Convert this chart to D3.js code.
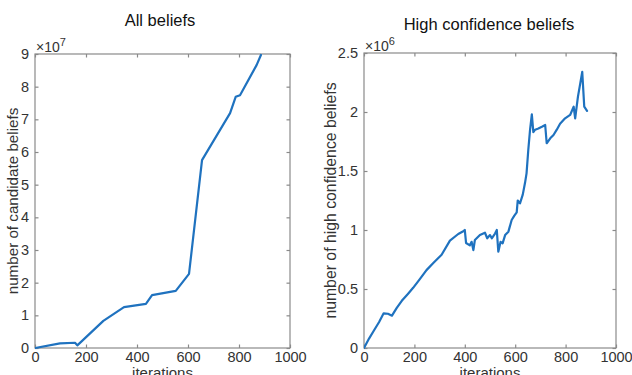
<!DOCTYPE html>
<html><head><meta charset="utf-8">
<script src="https://cdn.jsdelivr.net/npm/d3@7"></script>
<style>
html,body{margin:0;padding:0;background:#fff;}
svg{display:block;font-family:"Liberation Sans",Arial,Helvetica,sans-serif;}
</style></head>
<body>
<svg id="c" width="632" height="375"></svg>
<script>
// ---- data ----
const allIter = [0, 98, 157, 166, 268, 349, 435, 459, 552, 604, 655, 765, 787, 804, 869, 886];
const allValues = [0, 0.14e7, 0.16e7, 0.08e7, 0.83e7, 1.25e7, 1.35e7, 1.62e7, 1.75e7, 2.27e7, 5.75e7, 7.19e7, 7.69e7, 7.74e7, 8.66e7, 8.97e7];

const highIter = [0, 20, 40, 60, 78, 95, 111, 130, 150, 175, 195, 220, 248, 275, 308, 341, 374, 394, 400, 405, 420, 427, 434, 440, 460, 480, 489, 500, 507, 520, 527, 533, 542, 550, 560, 573, 586, 596, 606, 610, 619, 630, 639, 645, 652, 659, 666, 672, 679, 692, 706, 719, 725, 739, 752, 765, 778, 798, 818, 832, 838, 849, 858, 866, 874, 885];
const highValues = [0, 0.08e6, 0.15e6, 0.22e6, 0.294e6, 0.29e6, 0.274e6, 0.34e6, 0.40e6, 0.46e6, 0.51e6, 0.58e6, 0.66e6, 0.72e6, 0.79e6, 0.91e6, 0.966e6, 0.99e6, 1.0e6, 0.89e6, 0.87e6, 0.90e6, 0.83e6, 0.915e6, 0.957e6, 0.977e6, 0.93e6, 0.957e6, 0.93e6, 0.97e6, 1.0e6, 0.816e6, 0.90e6, 0.887e6, 0.957e6, 0.986e6, 1.085e6, 1.12e6, 1.15e6, 1.25e6, 1.226e6, 1.30e6, 1.40e6, 1.48e6, 1.68e6, 1.85e6, 1.98e6, 1.83e6, 1.85e6, 1.86e6, 1.875e6, 1.89e6, 1.735e6, 1.777e6, 1.805e6, 1.85e6, 1.90e6, 1.946e6, 1.975e6, 2.045e6, 1.946e6, 2.13e6, 2.24e6, 2.34e6, 2.045e6, 2.01e6];

const xTicks = [0, 200, 400, 600, 800, 1000];
const leftYTicks = [0, 1, 2, 3, 4, 5, 6, 7, 8, 9];
const rightYTicks = [0, 0.5, 1, 1.5, 2, 2.5];

const svg = d3.select("#c");
const lineColor = "#1f72bf";
const axisColor = "#8a8a8a";
const textColor = "#333";

function panel(opts) {
  const {x0, x1, y0, y1, xDomain, yDomain, yTicks, yScaleFactor, xs, ys, title, titleX, titleY, ylabel, ylabelX, ylabelSize, exp, fmt} = opts;
  const x = d3.scaleLinear().domain(xDomain).range([x0, x1]);
  const y = d3.scaleLinear().domain(yDomain).range([y1, y0]);
  const g = svg.append("g");
  const clipId = "clip" + Math.round(x0);
  svg.append("clipPath").attr("id", clipId).append("rect")
    .attr("x", x0).attr("y", y0 - 1).attr("width", x1 - x0).attr("height", y1 - y0 + 2);

  g.append("rect").attr("x", x0).attr("y", y0).attr("width", x1 - x0).attr("height", y1 - y0)
    .attr("fill", "none").attr("stroke", axisColor).attr("stroke-width", 1.2);

  const tl = 3.5;
  const bottom = g.append("g").attr("transform", `translate(0,${y1})`)
    .call(d3.axisBottom(x).tickValues(xTicks).tickSizeInner(-tl).tickSizeOuter(0).tickPadding(4).tickFormat(d3.format("d")));
  const top = g.append("g").attr("transform", `translate(0,${y0})`)
    .call(d3.axisTop(x).tickValues(xTicks).tickSizeInner(-tl).tickSizeOuter(0).tickFormat(""));
  const yv = yTicks.map(v => v * yScaleFactor);
  const left = g.append("g").attr("transform", `translate(${x0},0)`)
    .call(d3.axisLeft(y).tickValues(yv).tickSizeInner(-tl).tickSizeOuter(0).tickPadding(6).tickFormat(d => fmt(d / yScaleFactor)));
  const right = g.append("g").attr("transform", `translate(${x1},0)`)
    .call(d3.axisRight(y).tickValues(yv).tickSizeInner(-tl).tickSizeOuter(0).tickFormat(""));
  [bottom, top, left, right].forEach(a => {
    a.select(".domain").remove();
    a.selectAll(".tick line").attr("stroke", axisColor).attr("stroke-width", 1.2);
    a.selectAll(".tick text").attr("fill", textColor).attr("font-size", 14.5).attr("font-family", "Liberation Sans, Arial, sans-serif");
  });

  const data = xs.map((d, i) => [d, ys[i]]);
  g.append("path").datum(data)
    .attr("clip-path", `url(#${clipId})`)
    .attr("fill", "none").attr("stroke", lineColor).attr("stroke-width", 2.2)
    .attr("stroke-linejoin", "round").attr("stroke-linecap", "round")
    .attr("d", d3.line().x(d => x(d[0])).y(d => y(d[1])));

  svg.append("text").attr("x", titleX).attr("y", titleY).attr("text-anchor", "middle")
    .attr("font-size", 16.5).attr("fill", "#111").text(title);
  svg.append("text").attr("x", (x0 + x1) / 2).attr("y", 378).attr("text-anchor", "middle")
    .attr("font-size", 15).attr("fill", textColor).text("iterations");
  svg.append("text").attr("transform", `translate(${ylabelX},${(y0 + y1) / 2}) rotate(-90)`)
    .attr("text-anchor", "middle").attr("font-size", ylabelSize).attr("fill", textColor).text(ylabel);
  const e = svg.append("text").attr("x", x0 + 1).attr("y", y0 - 2).attr("font-size", 14).attr("fill", textColor);
  e.append("tspan").text("\u00d710");
  e.append("tspan").attr("dy", -6).attr("font-size", 11).text(exp);
}

panel({
  x0: 35, x1: 290, y0: 54, y1: 348,
  xDomain: [0, 1000], yDomain: [0, 9e7], yTicks: leftYTicks, yScaleFactor: 1e7,
  xs: allIter, ys: allValues,
  title: "All beliefs", titleX: 160, titleY: 26,
  ylabel: "number of candidate beliefs", ylabelX: 18, ylabelSize: 15.2, exp: "7",
  fmt: d => d3.format("d")(d)
});
panel({
  x0: 364, x1: 616, y0: 53, y1: 348,
  xDomain: [0, 1000], yDomain: [0, 2.5e6], yTicks: rightYTicks, yScaleFactor: 1e6,
  xs: highIter, ys: highValues,
  title: "High confidence beliefs", titleX: 489, titleY: 30,
  ylabel: "number of high confidence beliefs", ylabelX: 336, ylabelSize: 15.8, exp: "6",
  fmt: d => d3.format("~g")(d)
});
</script>
</body></html>
